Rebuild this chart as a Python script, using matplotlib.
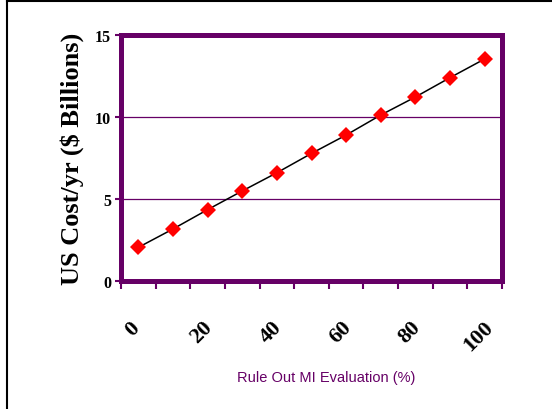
import matplotlib
matplotlib.use('Agg')
import matplotlib.pyplot as plt
import matplotlib.transforms as mtransforms
from matplotlib.lines import Line2D
import numpy as np

# Cost curve: percentage of rule-out MI evaluations vs yearly US cost
pct = [0, 10, 20, 30, 40, 50, 60, 70, 80, 90, 100]
cost_billions = [2.05, 3.17, 4.35, 5.49, 6.6, 7.78, 8.9, 10.12, 11.22, 12.4, 13.54]
x_labels = ['0', '20', '40', '60', '80', '100']
y_ticks = [0, 5, 10, 15]

PURPLE = '#660066'
SERIF = ['Liberation Serif', 'DejaVu Serif']
SANS = ['Liberation Sans', 'DejaVu Sans']

fig = plt.figure(figsize=(5.52, 4.10), dpi=100)
ax = fig.add_axes([121 / 552, 1 - 282 / 410, 381 / 552, 246 / 410])

pos = np.arange(len(pct))
ax.plot(pos, cost_billions, color='black', lw=1.1, zorder=3,
        marker='D', markersize=8, markerfacecolor='#ff0000',
        markeredgecolor='#ff0000', markeredgewidth=0)

ax.set_xlim(-0.5, len(pct) - 0.5)
ax.set_ylim(0, 15)

# heavy purple frame round the plot area
for sp in ax.spines.values():
    sp.set_color(PURPLE)
    sp.set_linewidth(3.6)

ax.set_yticks(y_ticks)
ax.set_yticklabels([str(t) for t in y_ticks], family=SERIF,
                   fontweight='bold', fontsize=11.5)
ax.tick_params(axis='y', direction='out', length=4, width=1.5,
               color=PURPLE, pad=3)

# category boundaries carry the tick marks, labels sit on every other point
ax.set_xticks(np.arange(-0.5, len(pct), 1.0))
ax.set_xticklabels([])
ax.tick_params(axis='x', which='major', direction='out', length=6,
               width=1.5, color=PURPLE)
ax.set_xticks(pos[::2], minor=True)
ax.set_xticklabels(x_labels, minor=True, rotation=45, ha='center',
                   va='top', family=SERIF, fontweight='bold', fontsize=16)
ax.tick_params(axis='x', which='minor', length=0, pad=26)
shift = mtransforms.ScaledTranslation(-6 / 100, 0, fig.dpi_scale_trans)
for lbl in ax.get_xticklabels(minor=True):
    lbl.set_transform(lbl.get_transform() + shift)

ax.yaxis.grid(True, color=PURPLE, lw=0.9)
ax.set_axisbelow(True)

ax.set_ylabel('US Cost/yr ($ Billions)', family=SERIF, fontweight='bold',
              fontsize=19, labelpad=8)

fig.text(326 / 552, 1 - 378 / 410, 'Rule Out MI Evaluation (%)',
         color=PURPLE, family=SANS, fontsize=10.5, ha='center', va='center')

# outer black frame (only left and top edges fall inside the canvas)
fig.add_artist(Line2D([7 / 552, 7 / 552], [0, 1 - 2 / 410],
                      transform=fig.transFigure, color='black', lw=1.5))
fig.add_artist(Line2D([7 / 552, 1], [1 - 2 / 410, 1 - 2 / 410],
                      transform=fig.transFigure, color='black', lw=1.5))

fig.savefig('out.png', dpi=100)
